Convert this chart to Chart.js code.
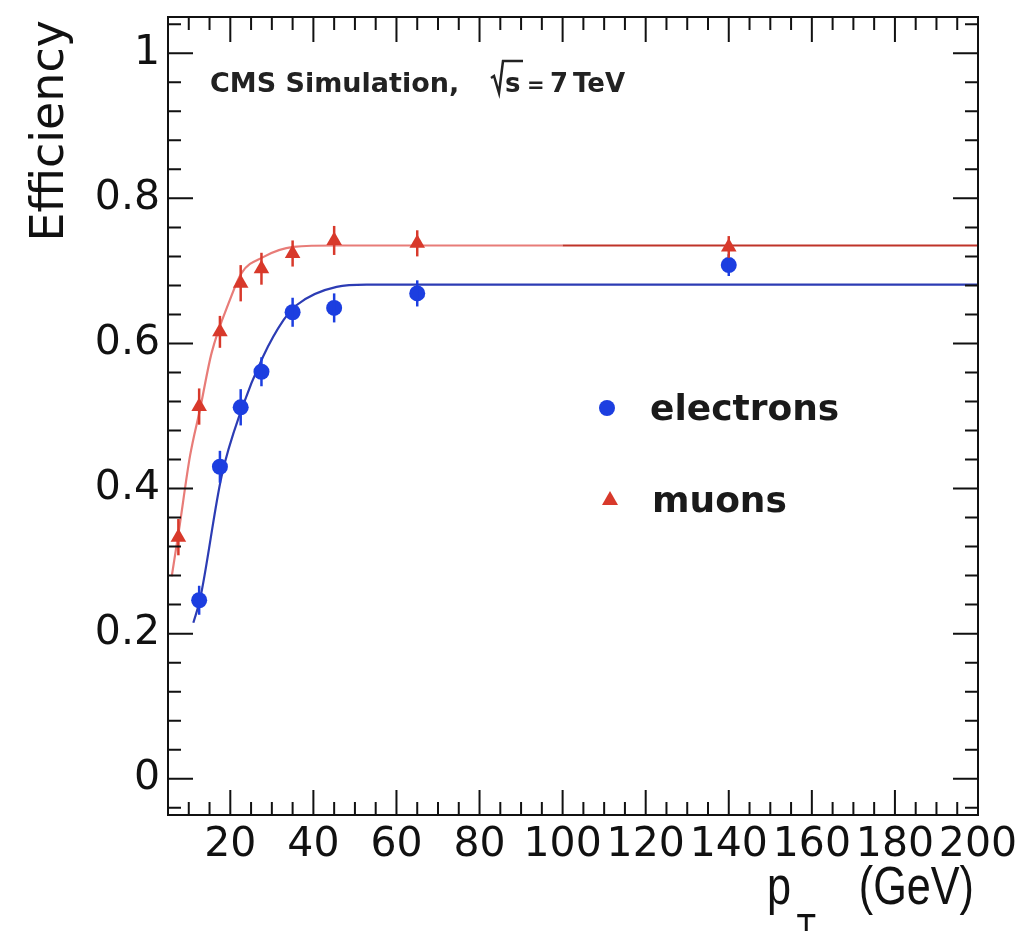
<!DOCTYPE html>
<html>
<head>
<meta charset="utf-8">
<script src="https://cdn.jsdelivr.net/npm/chart.js@4.4.1/dist/chart.umd.min.js"></script>
<style>
  html, body { margin: 0; padding: 0; background: #fff; }
  #wrap { width: 1023px; height: 931px; }
</style>
</head>
<body>
<div id="wrap"><canvas id="effChart"></canvas></div>
<script>
// measured points (pT in GeV, efficiency)
const electronPt  = [12.5, 17.5, 22.5, 27.5, 35, 45, 65, 140];
const electronEff = [0.246, 0.430, 0.512, 0.561, 0.643, 0.649, 0.669, 0.708];
const electronErr = [0.020, 0.022, 0.025, 0.020, 0.020, 0.020, 0.018, 0.015];

const muonPt  = [7.5, 12.5, 17.5, 22.5, 27.5, 35, 45, 65, 140];
const muonEff = [0.333, 0.513, 0.616, 0.683, 0.703, 0.724, 0.742, 0.738, 0.733];
const muonErr = [0.025, 0.025, 0.022, 0.025, 0.022, 0.018, 0.020, 0.018, 0.015];

// fitted turn-on curves
const electronFitPt  = [11.1, 12.7, 17.9, 22.7, 27.9, 32.8, 36, 45.6, 52.8, 200];
const electronFitEff = [0.215, 0.247, 0.417, 0.509, 0.582, 0.632, 0.653, 0.678, 0.681, 0.681];
const muonFitPt  = [5.9, 7.7, 10.3, 12.7, 15.5, 19.9, 22.7, 27.9, 35.2, 45.6, 100, 200];
const muonFitEff = [0.279, 0.345, 0.445, 0.509, 0.587, 0.660, 0.697, 0.719, 0.733, 0.735, 0.735, 0.735];

const xTickValues = [20, 40, 60, 80, 100, 120, 140, 160, 180, 200];
const yTickValues = [0, 0.2, 0.4, 0.6, 0.8, 1];
const yTickLabels = ['0', '0.2', '0.4', '0.6', '0.8', '1'];

const BLUE = '#1c3ee0';
const BLUE_LINE = '#2c3cb4';
const RED = '#d8392b';
const RED_LINE = '#bf3329';
const RED_LINE_LIGHT = '#e87c78';

const toXY = (xs, ys) => xs.map((x, i) => ({ x: x, y: ys[i] }));

// error bars, frame, inward ticks, texts
const decorations = {
    id: 'decorations',
    afterDatasetsDraw(chart) {
        const ctx = chart.ctx;
        const xs = chart.scales.x;
        const ys = chart.scales.y;

        // error bars
        const bars = [
            [electronPt, electronEff, electronErr, BLUE],
            [muonPt, muonEff, muonErr, RED]
        ];
        ctx.save();
        ctx.lineWidth = 2.5;
        bars.forEach(([px, py, pe, col]) => {
            ctx.strokeStyle = col;
            px.forEach((x, i) => {
                const X = xs.getPixelForValue(x);
                ctx.beginPath();
                ctx.moveTo(X, ys.getPixelForValue(py[i] - pe[i]));
                ctx.lineTo(X, ys.getPixelForValue(py[i] + pe[i]));
                ctx.stroke();
            });
        });
        ctx.restore();
    },
    afterDraw(chart) {
        const ctx = chart.ctx;
        const xs = chart.scales.x;
        const ys = chart.scales.y;
        const a = chart.chartArea;

        ctx.save();
        ctx.strokeStyle = '#111';
        ctx.lineWidth = 2;
        ctx.strokeRect(a.left, a.top, a.right - a.left, a.bottom - a.top);

        // inward ticks on all four sides
        ctx.beginPath();
        for (let v = 10; v < 200; v += 5) {
            const X = xs.getPixelForValue(v);
            const len = v % 20 === 0 ? 25 : 13;
            ctx.moveTo(X, a.bottom); ctx.lineTo(X, a.bottom - len);
            ctx.moveTo(X, a.top); ctx.lineTo(X, a.top + len);
        }
        for (let k = -1; k <= 26; k++) {
            const v = k * 0.04;
            if (v < ys.min || v > ys.max) continue;
            const Y = ys.getPixelForValue(v);
            const len = k % 5 === 0 ? 25 : 13;
            ctx.moveTo(a.left, Y); ctx.lineTo(a.left + len, Y);
            ctx.moveTo(a.right, Y); ctx.lineTo(a.right - len, Y);
        }
        ctx.stroke();

        // CMS label
        ctx.fillStyle = '#222';
        ctx.font = 'bold 27px "DejaVu Sans"';
        ctx.textBaseline = 'alphabetic';
        ctx.textAlign = 'left';
        ctx.fillText('CMS Simulation,', 210, 92);
        ctx.strokeStyle = '#222';
        ctx.lineWidth = 2.5;
        ctx.beginPath();
        ctx.moveTo(491, 78); ctx.lineTo(494, 76); ctx.lineTo(499, 93);
        ctx.lineTo(503, 61); ctx.lineTo(523, 61);
        ctx.stroke();
        ctx.font = 'bold 26px "DejaVu Sans"';
        ctx.fillText('s', 505, 92);
        ctx.fillText('7', 550, 92);
        ctx.fillText('TeV', 573, 92);
        ctx.font = 'bold 21px "DejaVu Sans"';
        ctx.fillText('=', 527, 92);

        // legend
        ctx.fillStyle = BLUE;
        ctx.beginPath();
        ctx.arc(607, 408, 8, 0, Math.PI * 2);
        ctx.fill();
        ctx.fillStyle = RED;
        ctx.beginPath();
        ctx.moveTo(610, 491); ctx.lineTo(618, 505); ctx.lineTo(602, 505);
        ctx.closePath();
        ctx.fill();
        ctx.fillStyle = '#1a1a1a';
        ctx.font = 'bold 36px "DejaVu Sans"';
        ctx.fillText('electrons', 650, 420);
        ctx.fillText('muons', 652, 512);

        // axis titles
        ctx.fillStyle = '#111';
        ctx.save();
        ctx.translate(63, 20);
        ctx.rotate(-Math.PI / 2);
        ctx.textAlign = 'right';
        ctx.font = '46px "DejaVu Sans"';
        ctx.fillText('Efficiency', 0, 0);
        ctx.restore();

        ctx.save();
        ctx.translate(767, 904);
        ctx.scale(0.8, 1);
        ctx.font = '54px "Liberation Sans"';
        ctx.fillText('p', 0, 0);
        ctx.font = '40px "Liberation Sans"';
        ctx.fillText('T', 37, 38);
        ctx.restore();
        ctx.save();
        ctx.translate(974, 904);
        ctx.scale(0.8, 1);
        ctx.textAlign = 'right';
        ctx.font = '54px "Liberation Sans"';
        ctx.fillText('(GeV)', 0, 0);
        ctx.restore();

        ctx.restore();
    }
};

const ctx = document.getElementById('effChart').getContext('2d');

new Chart(ctx, {
    type: 'scatter',
    data: {
        datasets: [
            {
                label: 'electron fit',
                data: toXY(electronFitPt, electronFitEff),
                showLine: true,
                pointRadius: 0,
                borderColor: BLUE_LINE,
                borderWidth: 2.2,
                cubicInterpolationMode: 'monotone',
                order: 3
            },
            {
                label: 'muon fit',
                data: toXY(muonFitPt, muonFitEff),
                showLine: true,
                pointRadius: 0,
                borderColor: RED_LINE,
                borderWidth: 2.2,
                cubicInterpolationMode: 'monotone',
                segment: {
                    borderColor: c => c.p0.parsed.x >= 100 ? RED_LINE : RED_LINE_LIGHT
                },
                order: 3
            },
            {
                label: 'electrons',
                data: toXY(electronPt, electronEff),
                pointStyle: 'circle',
                pointRadius: 8,
                backgroundColor: BLUE,
                borderColor: BLUE,
                borderWidth: 0,
                order: 1
            },
            {
                label: 'muons',
                data: toXY(muonPt, muonEff),
                pointStyle: 'triangle',
                pointRadius: 9,
                backgroundColor: RED,
                borderColor: RED,
                borderWidth: 0,
                order: 1
            }
        ]
    },
    options: {
        responsive: true,
        maintainAspectRatio: false,
        animation: false,
        layout: {
            padding: { top: 17, right: 45, left: 0, bottom: 0 }
        },
        plugins: {
            legend: { display: false },
            tooltip: { enabled: false }
        },
        scales: {
            x: {
                type: 'linear',
                min: 5,
                max: 200,
                grid: { display: false, drawTicks: false },
                border: { display: false },
                afterBuildTicks: s => { s.ticks = xTickValues.map(v => ({ value: v })); },
                afterFit: s => {
                    s.height = 116;
                    s.paddingLeft = 0;
                    s.paddingRight = 0;
                },
                ticks: {
                    autoSkip: false,
                    maxRotation: 0,
                    padding: 6,
                    color: '#111',
                    font: { family: 'DejaVu Sans', size: 41 },
                    callback: v => String(v)
                }
            },
            y: {
                type: 'linear',
                min: -0.05,
                max: 1.05,
                grid: { display: false, drawTicks: false },
                border: { display: false },
                afterBuildTicks: s => { s.ticks = yTickValues.map(v => ({ value: v })); },
                afterFit: s => {
                    s.width = 168;
                    s.paddingTop = 0;
                    s.paddingBottom = 0;
                },
                ticks: {
                    padding: 8,
                    color: '#111',
                    font: { family: 'DejaVu Sans', size: 41 },
                    callback: (v, i) => yTickLabels[i]
                }
            }
        }
    },
    plugins: [decorations]
});
</script>
</body>
</html>
